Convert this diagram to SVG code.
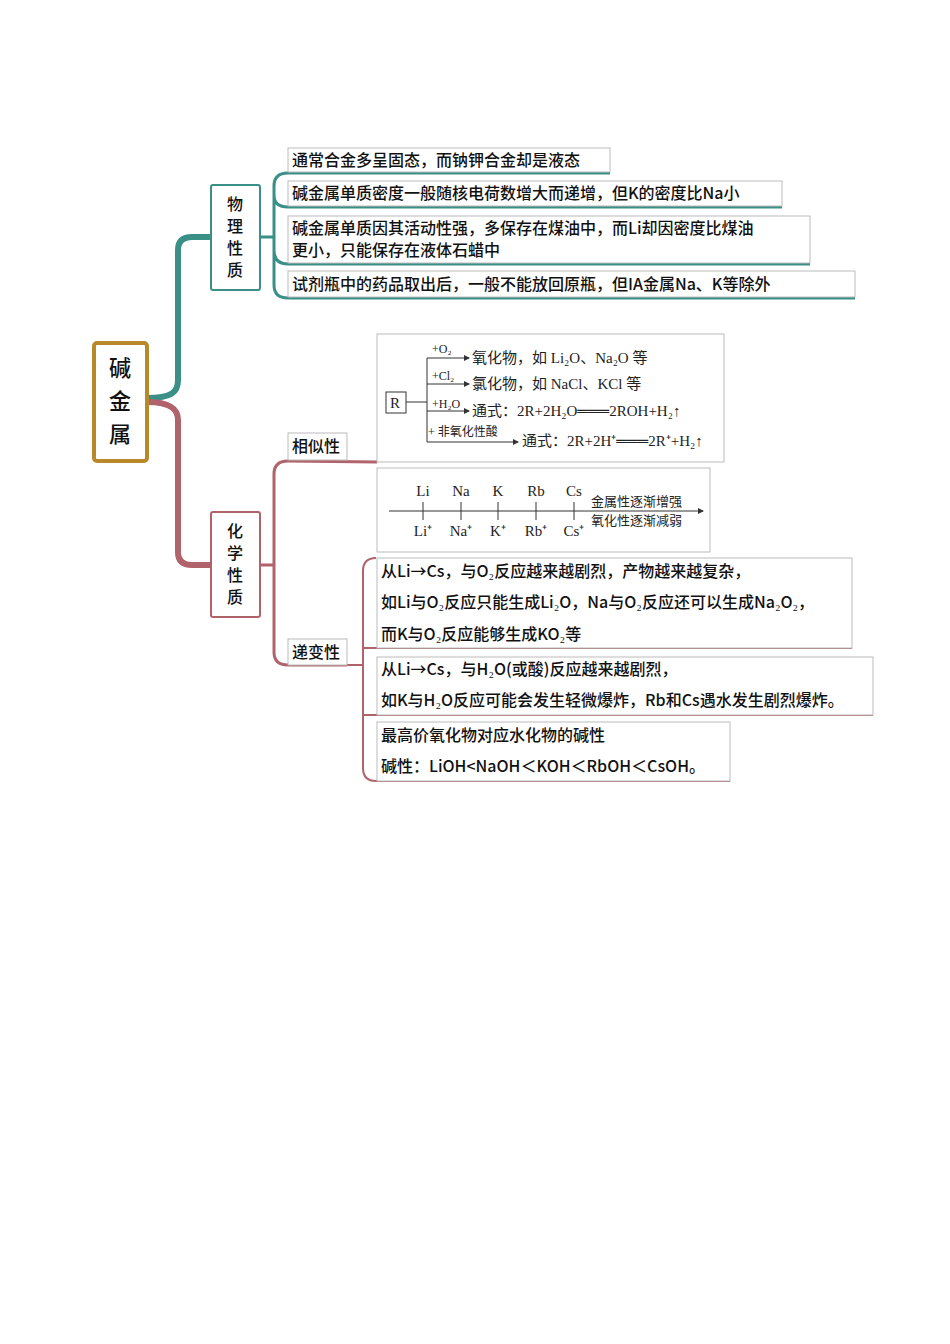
<svg xmlns="http://www.w3.org/2000/svg" width="950" height="1344" viewBox="0 0 950 1344">
<style>
.t{font-family:"Noto Sans CJK SC","Liberation Serif",serif;font-size:16px;fill:#111;font-weight:500}
.s{font-family:"Liberation Serif","Noto Sans CJK SC",serif;font-size:15px;fill:#222}
.sm{font-family:"Liberation Serif","Noto Sans CJK SC",serif;font-size:12px;fill:#222}
.box{fill:#fff;stroke:#bbb;stroke-width:1}
.tl{fill:none;stroke:#3a8f87;stroke-width:3}
.rd{fill:none;stroke:#b0636a;stroke-width:3}
.ln{stroke:#333;stroke-width:1;fill:none}
</style>
<defs><marker id="a" markerWidth="6" markerHeight="6" refX="5" refY="3" orient="auto"><path d="M0,0L6,3L0,6z" fill="#333"/></marker></defs>
<rect width="950" height="1344" fill="#fff"/>
<g id="connectors">
<path d="M147,398 C172,398 178,392 178,380 L178,250 Q178,237 192,237 L210,237" class="tl" style="stroke-width:6"/>
<path d="M147,402 C172,402 178,410 178,420 L178,552 Q178,565 192,565 L210,565" class="rd" style="stroke-width:6"/>
<path d="M260,237 L274,237 M274,237 L274,186 Q274,173 288,173 L610,173 M274,195 Q274,207 288,207 L782,207 M274,250 Q274,264 288,264 L810,264 M274,237 L274,285 Q274,298 288,298 L855,298" class="tl"/>
<path d="M260,565 L274,565 M274,565 L274,474 Q274,461 288,461 L377,462 M274,565 L274,652 Q274,665 288,665 L347,665" class="rd"/>
<path d="M347,665 L363,665 L363,571 Q363,558 376,558 M363,648 L852,648 M363,665 L363,715 L873,715 M363,715 L363,768 Q363,781 376,781 L730,781" class="rd" style="stroke-width:2"/>
</g>
<g id="root"><rect x="94" y="343" width="53" height="118" rx="3" fill="#fff" stroke="#b8892a" stroke-width="4"/>
<text class="t" style="font-size:22px" x="120" y="376" text-anchor="middle">碱</text><text class="t" style="font-size:22px" x="120" y="409" text-anchor="middle">金</text><text class="t" style="font-size:22px" x="120" y="442" text-anchor="middle">属</text></g>
<g id="phys"><rect x="211" y="185" width="49" height="105" rx="2" fill="#fff" stroke="#3a8f87" stroke-width="2"/>
<text class="t" x="235" y="210" text-anchor="middle">物</text><text class="t" x="235" y="232" text-anchor="middle">理</text><text class="t" x="235" y="254" text-anchor="middle">性</text><text class="t" x="235" y="276" text-anchor="middle">质</text></g>
<g id="chem"><rect x="211" y="512" width="49" height="105" rx="2" fill="#fff" stroke="#b0636a" stroke-width="2"/>
<text class="t" x="235" y="537" text-anchor="middle">化</text><text class="t" x="235" y="559" text-anchor="middle">学</text><text class="t" x="235" y="581" text-anchor="middle">性</text><text class="t" x="235" y="603" text-anchor="middle">质</text></g>
<g id="p1"><rect class="box" x="288" y="148" width="322" height="24"/><text class="t" x="292" y="166">通常合金多呈固态，而钠钾合金却是液态</text></g>
<g id="p2"><rect class="box" x="288" y="181" width="494" height="25"/><text class="t" x="292" y="199">碱金属单质密度一般随核电荷数增大而递增，但K的密度比Na小</text></g>
<g id="p3"><rect class="box" x="288" y="216" width="522" height="47"/><text class="t" x="292" y="234">碱金属单质因其活动性强，多保存在煤油中，而Li却因密度比煤油</text><text class="t" x="292" y="256">更小，只能保存在液体石蜡中</text></g>
<g id="p4"><rect class="box" x="288" y="271" width="567" height="26"/><text class="t" x="292" y="290">试剂瓶中的药品取出后，一般不能放回原瓶，但IA金属Na、K等除外</text></g>
<g id="sim"><rect class="box" x="288" y="433" width="59" height="27"/><text class="t" x="292" y="452">相似性</text></g>
<g id="grad"><rect class="box" x="288" y="639" width="59" height="26"/><text class="t" x="292" y="658">递变性</text></g>
<g id="img1"><rect class="box" x="377" y="334" width="347" height="128"/>
<rect x="386" y="392" width="20" height="21" fill="#fff" stroke="#333"/><text class="s" x="390" y="408">R</text>
<path class="ln" d="M406,402 L427,402 M427,358 L427,442"/>
<path class="ln" d="M427,358 L469,358" marker-end="url(#a)"/><path class="ln" d="M427,384 L469,384" marker-end="url(#a)"/><path class="ln" d="M427,411 L469,411" marker-end="url(#a)"/><path class="ln" d="M427,442 L518,442" marker-end="url(#a)"/>
<text class="sm" x="432" y="353">+O₂</text><text class="sm" x="432" y="380">+Cl₂</text><text class="sm" x="432" y="408">+H₂O</text><text class="sm" x="428" y="436">+ 非氧化性酸</text>
<text class="s" x="472" y="363">氧化物，如 Li₂O、Na₂O 等</text>
<text class="s" x="472" y="389">氯化物，如 NaCl、KCl 等</text>
<text class="s" x="472" y="416">通式：2R+2H₂O═══2ROH+H₂↑</text>
<text class="s" x="522" y="446">通式：2R+2H⁺═══2R⁺+H₂↑</text></g>
<g id="img2"><rect class="box" x="377" y="468" width="333" height="84"/>
<path class="ln" d="M389,511 L703,511" marker-end="url(#a)"/>
<path class="ln" d="M423,502 V520 M461,502 V520 M498,502 V520 M536,502 V520 M574,502 V520"/>
<text class="s" x="423" y="496" text-anchor="middle">Li</text><text class="s" x="461" y="496" text-anchor="middle">Na</text><text class="s" x="498" y="496" text-anchor="middle">K</text><text class="s" x="536" y="496" text-anchor="middle">Rb</text><text class="s" x="574" y="496" text-anchor="middle">Cs</text>
<text class="s" x="423" y="536" text-anchor="middle">Li⁺</text><text class="s" x="461" y="536" text-anchor="middle">Na⁺</text><text class="s" x="498" y="536" text-anchor="middle">K⁺</text><text class="s" x="536" y="536" text-anchor="middle">Rb⁺</text><text class="s" x="574" y="536" text-anchor="middle">Cs⁺</text>
<text class="sm" style="font-size:13px" x="591" y="506">金属性逐渐增强</text><text class="sm" style="font-size:13px" x="591" y="525">氧化性逐渐减弱</text></g>
<g id="g1"><rect class="box" x="377" y="558" width="475" height="90"/><text class="t" x="381" y="577">从Li→Cs，与O₂反应越来越剧烈，产物越来越复杂，</text><text class="t" x="381" y="608">如Li与O₂反应只能生成Li₂O，Na与O₂反应还可以生成Na₂O₂，</text><text class="t" x="381" y="640">而K与O₂反应能够生成KO₂等</text></g>
<g id="g2"><rect class="box" x="377" y="657" width="496" height="58"/><text class="t" x="381" y="675">从Li→Cs，与H₂O(或酸)反应越来越剧烈，</text><text class="t" x="381" y="706">如K与H₂O反应可能会发生轻微爆炸，Rb和Cs遇水发生剧烈爆炸。</text></g>
<g id="g3"><rect class="box" x="377" y="722" width="353" height="59"/><text class="t" x="381" y="741">最高价氧化物对应水化物的碱性</text><text class="t" x="381" y="772">碱性：LiOH&lt;NaOH＜KOH＜RbOH＜CsOH。</text></g>
</svg>
